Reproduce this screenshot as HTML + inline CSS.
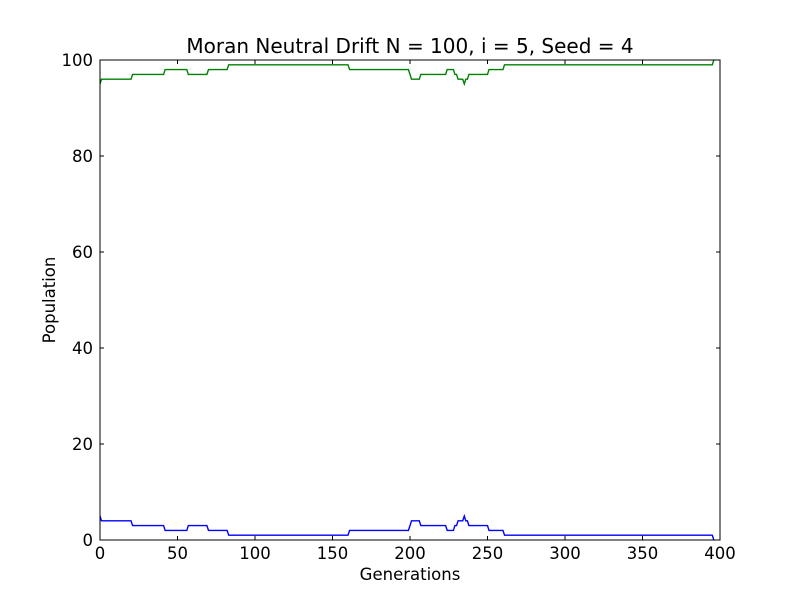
<!DOCTYPE html>
<html><head><meta charset="utf-8"><style>
body{margin:0;background:#fff;}
svg text{font-family:"DejaVu Sans","Liberation Sans",sans-serif;}
</style></head><body>
<svg id="chart" width="800" height="600" xmlns="http://www.w3.org/2000/svg">
<rect width="800" height="600" fill="#fff"/>
<text x="410" y="53" font-size="20" text-anchor="middle">Moran Neutral Drift N = 100, i = 5, Seed = 4</text>
<text x="410" y="580" font-size="16.5" text-anchor="middle">Generations</text>
<text x="55" y="300" font-size="16.5" text-anchor="middle" transform="rotate(-90 55 300)">Population</text>
<g id="ticks"></g>
<g id="series"></g>
<rect x="100" y="60" width="620" height="480" fill="none" stroke="#000" stroke-width="1"/>
</svg>
<script>
const gens = [0,1,20,21,41,42,56,57,69,70,82,83,160,161,199,200,201,202,206,207,223,224,228,229,230,231,232,234,235,236,237,238,239,250,251,260,261,395,396];
const mutantCounts = [5,4,4,3,3,2,2,3,3,2,2,1,1,2,2,3,4,4,4,3,3,2,2,3,3,4,4,4,5,4,4,3,3,3,2,2,1,1,0];
const residentCounts = [95,96,96,97,97,98,98,97,97,98,98,99,99,98,98,97,96,96,96,97,97,98,98,97,97,96,96,96,95,96,96,97,97,97,98,98,99,99,100];
const xTicks = [0,50,100,150,200,250,300,350,400];
const yTicks = [0,20,40,60,80,100];
const NS = "http://www.w3.org/2000/svg";
const xs = v => 100 + v / 400 * 620;
const ys = v => 540 - v / 100 * 480;
const tg = document.getElementById('ticks');
function mk(tag, attrs, parent){const e=document.createElementNS(NS,tag);for(const k in attrs)e.setAttribute(k,attrs[k]);parent.appendChild(e);return e;}
xTicks.forEach(t=>{
  const x=xs(t);
  const l1=mk('line',{x1:x,x2:x,y1:540,y2:536,stroke:'#000'},tg);
  
  
  mk('line',{x1:x,x2:x,y1:60,y2:64,stroke:'#000'},tg);
  const tx=mk('text',{x:x,y:559,'font-size':16.5,'text-anchor':'middle'},tg);
  tx.textContent=t;
  
  
});
yTicks.forEach(t=>{
  const y=ys(t);
  const l1=mk('line',{x1:100,x2:104,y1:y,y2:y,stroke:'#000'},tg);
  
  
  mk('line',{x1:716,x2:720,y1:y,y2:y,stroke:'#000'},tg);
  const tx=mk('text',{x:93,y:y+6,'font-size':16.5,'text-anchor':'end'},tg);
  tx.textContent=t;
  
  
});
const sg=document.getElementById('series');
function line(vals,color,name){
  const pts=gens.map((g,i)=>xs(g).toFixed(1)+','+ys(vals[i]).toFixed(1)).join(' ');
  const p=mk('polyline',{points:pts,fill:'none',stroke:color,'stroke-width':1.4},sg);
  
  
}
line(mutantCounts,'#0000ff','mutant-line');
line(residentCounts,'#008000','resident-line');
</script>
</body></html>
